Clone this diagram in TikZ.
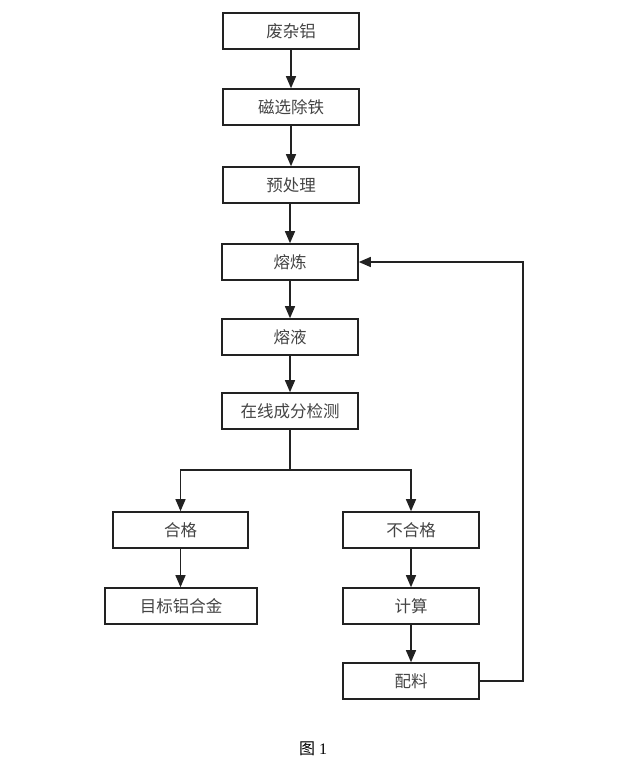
\documentclass[tikz,border=0pt]{standalone}
\usepackage{fontspec}
\newfontfamily\cjk{Noto Sans CJK SC}
\setmainfont{Liberation Serif}
\usetikzlibrary{arrows.meta}
\definecolor{txt}{HTML}{444444}
\definecolor{ln}{HTML}{222222}
\begin{document}
\begin{tikzpicture}[x=1pt,y=-1pt,
  stepbox/.style={draw=ln,line width=1.6pt,minimum height=36pt,inner sep=0pt,text=txt,font=\cjk\fontsize{16.5}{19}\selectfont},
  conn/.style={draw=ln,line width=1.3pt,-{Triangle[length=12pt,width=10pt]}},
  plain/.style={draw=ln,line width=1.3pt}]
\useasboundingbox (0,0) rectangle (617,774);
\node[stepbox,minimum width=136pt] (a) at (291,31) {废杂铝};
\node[stepbox,minimum width=136pt] (b) at (291,107) {磁选除铁};
\node[stepbox,minimum width=136pt] (c) at (291,185) {预处理};
\node[stepbox,minimum width=136pt] (d) at (290,262) {熔炼};
\node[stepbox,minimum width=136pt] (e) at (290,337) {熔液};
\node[stepbox,minimum width=136pt] (f) at (290,411) {在线成分检测};
\node[stepbox,minimum width=135pt] (g) at (180.5,530) {合格};
\node[stepbox,minimum width=136pt] (h) at (411,530) {不合格};
\node[stepbox,minimum width=152pt] (i) at (181,606) {目标铝合金};
\node[stepbox,minimum width=136pt] (j) at (411,606) {计算};
\node[stepbox,minimum width=136pt] (k) at (411,681) {配料};
\node[text=black,font=\fontsize{16}{19}\selectfont] (cap) at (313,749) {{\cjk 图}\ 1};
\coordinate (br) at (290,470);
\coordinate (bl) at (180.5,470);
\coordinate (bri) at (411,470);
\coordinate (fb1) at (523,681);
\coordinate (fb2) at (523,262);
\draw[conn] (a) -- (b);
\draw[conn] (b) -- (c);
\draw[conn] (c.south -| d) -- (d);
\draw[conn] (d) -- (e);
\draw[conn] (e) -- (f);
\draw[plain] (f.south) -- (br);
\draw[conn] (bri) -| (bl) -- (g.north);
\draw[conn] (br) -- (bri) -- (h.north);
\draw[conn] (g.south) -- (g.south |- i.north);
\draw[conn] (h) -- (j);
\draw[conn] (j) -- (k);
\draw[conn] (k.east) -- (fb1) -- (fb2) -- (d.east);
\end{tikzpicture}
\end{document}
